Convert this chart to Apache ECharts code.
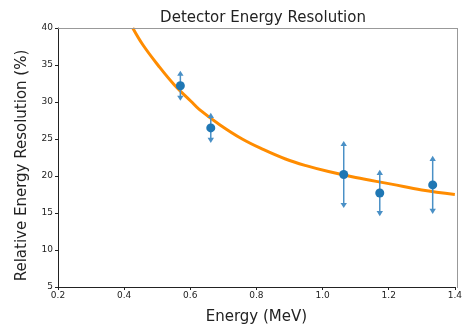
<!DOCTYPE html>
<html><head><meta charset="utf-8">
<script src="https://cdn.jsdelivr.net/npm/echarts@6/dist/echarts.min.js"></script>
<style>html,body{margin:0;padding:0;background:#fff}#c{width:465px;height:330px}</style>
</head><body><div id="c"></div>
<script>
// Measured data points
const energy = [0.570, 0.662, 1.064, 1.173, 1.333];
const resolution = [32.2, 26.5, 20.2, 17.7, 18.8];
const resError = [1.6, 1.6, 4.1, 2.7, 3.5];
// Fit curve
const fitEnergy = [0.426, 0.457, 0.502, 0.552, 0.602, 0.627, 0.69, 0.757, 0.82, 0.888, 0.95, 1.018, 1.1, 1.208, 1.3, 1.4];
const fitRes = [40.0, 37.7, 35.0, 32.3, 30.1, 29.0, 26.9, 25.0, 23.6, 22.3, 21.4, 20.6, 19.8, 18.9, 18.1, 17.5];
const xTicks = [0.2, 0.4, 0.6, 0.8, 1.0, 1.2, 1.4];
const yTicks = [5, 10, 15, 20, 25, 30, 35, 40];

const blue = '#1f77b4', orange = '#ff8c00';
const chart = echarts.init(document.getElementById('c'));
const font = 'DejaVu Sans';
chart.setOption({
  animation: false,
  title: {text: 'Detector Energy Resolution', left: 258, top: 6, textAlign: 'center',
    textStyle: {fontFamily: font, fontSize: 15, fontWeight: 'normal', color: '#222'}},
  grid: {left: 58, right: 8, top: 28, bottom: 42},
  xAxis: {type: 'value', min: xTicks[0], max: xTicks[xTicks.length-1], interval: 0.2,
    name: 'Energy (MeV)', nameLocation: 'middle', nameGap: 23,
    nameTextStyle: {fontFamily: font, fontSize: 15, color: '#222'},
    axisLine: {show: true, lineStyle: {color: '#222', width: 1}},
    axisTick: {show: true, length: 3, lineStyle: {color: '#222'}},
    axisLabel: {fontFamily: font, fontSize: 9, color: '#222', margin: 4, formatter: v => v.toFixed(1)},
    splitLine: {show: false}},
  yAxis: {type: 'value', min: yTicks[0], max: yTicks[yTicks.length-1], interval: 5,
    name: 'Relative Energy Resolution (%)', nameLocation: 'middle', nameGap: 28,
    nameTextStyle: {fontFamily: font, fontSize: 15, color: '#222', padding: [0, 16, 0, 0]},
    axisLine: {show: true, lineStyle: {color: '#222', width: 1}},
    axisTick: {show: true, length: 3, lineStyle: {color: '#222'}},
    axisLabel: {fontFamily: font, fontSize: 9, color: '#222', margin: 5},
    splitLine: {show: false}},
  series: [
    {type: 'line', data: fitEnergy.map((e, i) => [e, fitRes[i]]), smooth: 0.4, showSymbol: false,
      lineStyle: {color: orange, width: 3}, z: 2, clip: true},
    {type: 'custom', z: 3,
      data: energy.map((e, i) => [e, resolution[i], resError[i]]),
      renderItem: function (params, api) {
        const x = api.value(0), y = api.value(1), er = api.value(2);
        const top = api.coord([x, y + er]);
        const bot = api.coord([x, y - er]);
        const c = api.coord([x, y]);
        const s = 3.2;
        return {type: 'group', children: [
          {type: 'line', shape: {x1: top[0], y1: top[1], x2: bot[0], y2: bot[1]},
            style: {stroke: '#4a90c6', lineWidth: 1.5}},
          {type: 'polygon', shape: {points: [[top[0], top[1]-s], [top[0]-s, top[1]+s*0.6], [top[0]+s, top[1]+s*0.6]]},
            style: {fill: '#4a90c6'}},
          {type: 'polygon', shape: {points: [[bot[0], bot[1]+s], [bot[0]-s, bot[1]-s*0.6], [bot[0]+s, bot[1]-s*0.6]]},
            style: {fill: '#4a90c6'}},
          {type: 'circle', shape: {cx: c[0], cy: c[1], r: 4.5}, style: {fill: blue}}
        ]};
      }}
  ],
  graphic: [
    {type: 'line', shape: {x1: 58, y1: 28.5, x2: 457, y2: 28.5}, style: {stroke: '#999', lineWidth: 1}, z: 10},
    {type: 'line', shape: {x1: 457.5, y1: 28, x2: 457.5, y2: 288}, style: {stroke: '#999', lineWidth: 1}, z: 10}
  ]
});
</script></body></html>
